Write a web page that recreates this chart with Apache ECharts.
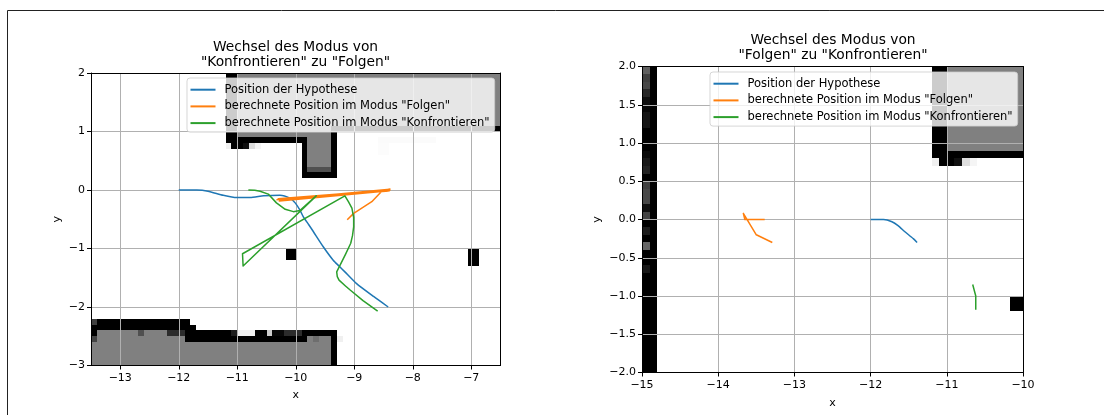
<!DOCTYPE html>
<html>
<head>
<meta charset="utf-8">
<style>html,body{margin:0;padding:0;background:#fff}#c{width:1104px;height:415px}</style>
<script src="https://cdn.jsdelivr.net/npm/echarts@6/dist/echarts.min.js"></script>
</head>
<body>
<div id="c"></div>
<script>
const seriesNames = ['Position der Hypothese', 'berechnete Position im Modus "Folgen"', 'berechnete Position im Modus "Konfrontieren"'];
const seriesColors = ['#1f77b4', '#ff7f0e', '#2ca02c'];
const leftTitle = 'Wechsel des Modus von\n"Konfrontieren" zu "Folgen"';
const rightTitle = 'Wechsel des Modus von\n"Folgen" zu "Konfrontieren"';

const leftXTicks = [-13, -12, -11, -10, -9, -8, -7];
const leftYTicks = [-3, -2, -1, 0, 1, 2];
const rightXTicks = [-15, -14, -13, -12, -11, -10];
const rightYTicks = [-2, -1.5, -1, -0.5, 0, 0.5, 1, 1.5, 2];

const leftBlue = [[-12,0],[-11.69,0],[-11.5,-0.02],[-11.24,-0.09],[-11.01,-0.13],[-10.78,-0.13],[-10.55,-0.1],[-10.27,-0.09],[-10.1,-0.14],[-10.01,-0.22],[-9.93,-0.34],[-9.87,-0.46],[-9.78,-0.59],[-9.7,-0.71],[-9.53,-0.97],[-9.36,-1.2],[-9.26,-1.3],[-9.16,-1.4],[-8.96,-1.6],[-8.67,-1.82],[-8.42,-2]];
const leftOrange = [[-10.33,-0.165],[-8.39,0.015],[-10.28,-0.19],[-8.4,-0.015],[-10.3,-0.15],[-8.39,0],[-8.53,-0.02],[-8.7,-0.2],[-9.01,-0.4],[-9.12,-0.51]];
const leftGreen = [[-10.81,0],[-10.7,-0.005],[-10.61,-0.02],[-10.47,-0.07],[-10.33,-0.22],[-10.18,-0.33],[-10.04,-0.37],[-9.93,-0.35],[-9.65,-0.1],[-10.9,-1.3],[-10.91,-1.09],[-9.16,-0.1],[-9.1,-0.2],[-9.04,-0.31],[-9.01,-0.47],[-9.01,-0.63],[-9.03,-0.78],[-9.06,-0.91],[-9.15,-1.1],[-9.24,-1.28],[-9.3,-1.4],[-9.29,-1.48],[-9.26,-1.54],[-9.15,-1.64],[-9.07,-1.71],[-8.85,-1.89],[-8.6,-2.07]];

const rightBlue = [[-12,0],[-11.83,0],[-11.72,-0.03],[-11.64,-0.08],[-11.55,-0.16],[-11.44,-0.25],[-11.39,-0.3]];
const rightOrange = [[-13.39,0],[-13.65,0],[-13.67,0.08],[-13.5,-0.2],[-13.29,-0.3]];
const rightGreen = [[-10.66,-0.85],[-10.62,-1],[-10.62,-1.18]];

// occupancy map cells in world units: x0, x1, y0, y1, grey level
const grey = 128;
const mapUpper = [
  [-11,-6.5,0.9,2.1,grey],
  [-9.8,-9.4,0.4,0.9,grey],
  [-11.2,-11,0.8,2.1,0],
  [-11.2,-9.8,0.8,0.9,0],
  [-9.9,-9.8,0.2,0.9,0],
  [-9.9,-9.3,0.2,0.3,0],
  [-9.8,-9.4,0.3,0.4,80],
  [-9.4,-9.3,0.2,1.1,0],
  [-9.3,-6.4,1,1.1,0],
  [-9.3,-6.4,0.3,1,255],
  [-11.2,-11.1,0.7,0.8,240],
  [-11.1,-10.9,0.7,0.8,0],
  [-10.9,-10.8,0.7,0.8,16],
  [-10.8,-10.7,0.7,0.8,222],
  [-10.7,-10.6,0.7,0.8,245],
  [-8.6,-7.6,0.8,0.9,251],
  [-8.6,-8.4,0.6,0.8,252]
];
const mapLower = [
  [-13.6,-9.4,-3.1,-2.6,grey],
  [-13.4,-11.9,-2.6,-2.4,grey],
  [-9.8,-9.4,-2.6,-2.5,grey],
  [-13.5,-13.4,-2.3,-2.2,64],
  [-13.5,-13.4,-2.5,-2.3,0],
  [-13.5,-13.4,-2.6,-2.5,68],
  [-13.4,-11.8,-2.4,-2.2,0],
  [-11.8,-11.7,-2.4,-2.3,0],
  [-12.7,-12.6,-2.5,-2.4,80],
  [-12.2,-11.9,-2.5,-2.4,44],
  [-11.9,-9.8,-2.6,-2.5,0],
  [-11.9,-11.1,-2.5,-2.4,0],
  [-11.1,-11,-2.5,-2.4,30],
  [-11,-10.7,-2.5,-2.4,240],
  [-10.7,-10.5,-2.5,-2.4,0],
  [-10.5,-10.4,-2.5,-2.4,205],
  [-10.4,-10.2,-2.5,-2.4,8],
  [-10.2,-9.9,-2.5,-2.4,44],
  [-9.9,-9.3,-2.5,-2.4,0],
  [-9.4,-9.3,-3.1,-2.4,0],
  [-9.7,-9.6,-2.6,-2.5,110],
  [-9.3,-9.2,-2.6,-2.5,240]
];
const mapObstacles = [
  [-10.17,-10,-1.2,-1,0],
  [-7.06,-6.87,-1.3,-1,170],
  [-7.06,-7.01,-1.3,-1,0],
  [-6.98,-6.87,-1.3,-1,0]
];
const wallColumn = [96,64,72,40,16,8,21,21,0,0,0,10,24,34,0,64,72,72,16,68,0,28,0,102,0,0,24,0,0,0,0,0,0,0,0,0,0,0,0,0];
const mapWall = [[-14.9,-14.8,-2.1,2.1,0]];
wallColumn.forEach((g, i) => mapWall.push([-15, -14.9, 2 - 0.1 * (i + 1), 2 - 0.1 * i, g]));
const mapCells = [...mapWall, ...mapUpper, ...mapLower, ...mapObstacles];

const FONT = '"DejaVu Sans"';
const fmtInt = v => String(v).replace('-', '\u2212');
const fmtOne = v => v.toFixed(1).replace('-', '\u2212');

function bottomX(grid, min, max, ticks, nameGap) {
  return {
    type: 'value', gridIndex: grid, min, max, position: 'bottom', z: 2,
    name: 'x', nameLocation: 'middle', nameGap, nameTextStyle: {fontFamily: FONT, fontSize: 11, color: '#000'},
    axisLine: {show: true, onZero: false, lineStyle: {color: '#000', width: 1}},
    axisTick: {show: true, length: 4, customValues: ticks, lineStyle: {color: '#000', width: 1}},
    axisLabel: {show: true, customValues: ticks, formatter: fmtInt, margin: 7, fontFamily: FONT, fontSize: 11, color: '#000', hideOverlap: false},
    splitLine: {show: true, lineStyle: {color: '#b0b0b0', width: 1}}
  };
}
function leftY(grid, min, max, ticks, fmt, nameGap) {
  return {
    type: 'value', gridIndex: grid, min, max, position: 'left', z: 2,
    name: 'y', nameLocation: 'middle', nameGap, nameTextStyle: {fontFamily: FONT, fontSize: 11, color: '#000'},
    axisLine: {show: true, onZero: false, lineStyle: {color: '#000', width: 1}},
    axisTick: {show: true, length: 4, customValues: ticks, lineStyle: {color: '#000', width: 1}},
    axisLabel: {show: true, customValues: ticks, formatter: fmt, margin: 6, fontFamily: FONT, fontSize: 11, color: '#000'},
    splitLine: {show: true, lineStyle: {color: '#b0b0b0', width: 1}}
  };
}
function spine(grid, min, max, position) {
  return {
    type: 'value', gridIndex: grid, min, max, position, z: 2,
    axisLine: {show: true, onZero: false, lineStyle: {color: '#000', width: 1}},
    axisTick: {show: false}, axisLabel: {show: false}, splitLine: {show: false}
  };
}
function mapSeries(xi, yi) {
  return {
    type: 'custom', xAxisIndex: xi, yAxisIndex: yi, z: 1, silent: true, clip: true,
    data: mapCells, encode: {x: [0, 1], y: [2, 3]},
    renderItem: (params, api) => {
      const a = api.coord([api.value(0), api.value(3)]);
      const b = api.coord([api.value(1), api.value(2)]);
      const g = api.value(4);
      const x0 = Math.round(a[0]), y0 = Math.round(a[1]);
      return {type: 'rect', shape: {x: x0, y: y0, width: Math.round(b[0]) - x0, height: Math.round(b[1]) - y0},
        style: {fill: 'rgb(' + g + ',' + g + ',' + g + ')'}};
    }
  };
}
function lineSeries(i, data, xi, yi, smooth) {
  return {
    type: 'line', name: seriesNames[i], data, xAxisIndex: xi, yAxisIndex: yi, z: 3,
    showSymbol: false, symbol: 'none', smooth: smooth || false, clip: true, silent: true,
    color: seriesColors[i], itemStyle: {color: seriesColors[i]},
    lineStyle: {color: seriesColors[i], width: 1.5, join: 'round'}
  };
}
function legend(left, top) {
  return {
    left, top, orient: 'vertical', z: 10, selectedMode: false, data: seriesNames,
    icon: 'rect', itemWidth: 25, itemHeight: 2, itemGap: 2.7,
    padding: [4.7, 5, 2, 3.5],
    backgroundColor: 'rgba(255,255,255,0.8)', borderColor: 'rgba(204,204,204,0.8)', borderWidth: 1, borderRadius: 3,
    textStyle: {fontFamily: FONT, fontSize: 11.5, color: '#000', lineHeight: 14, padding: [0, 0, 0, 4]}
  };
}
function title(text, center, top) {
  return {text, left: center, top, textAlign: 'center', padding: 0,
    textStyle: {fontFamily: FONT, fontSize: 13.8, fontWeight: 'normal', color: '#000', lineHeight: 15}};
}

const chart = echarts.init(document.getElementById('c'), null, {renderer: 'canvas'});
chart.setOption({
  animation: false,
  backgroundColor: '#fff',
  textStyle: {fontFamily: FONT},
  title: [title(leftTitle, 295.5, 40), title(rightTitle, 833, 33)],
  legend: [legend(187, 78), legend(710, 72)],
  grid: [
    {left: 91, top: 73, width: 409.5, height: 292.5},
    {left: 642, top: 66.5, width: 381, height: 306}
  ],
  xAxis: [bottomX(0, -13.5, -6.5, leftXTicks, 24), bottomX(1, -15, -10, rightXTicks, 25), spine(0, -13.5, -6.5, 'top'), spine(1, -15, -10, 'top')],
  yAxis: [leftY(0, -3, 2, leftYTicks, fmtInt, 28), leftY(1, -2, 2, rightYTicks, fmtOne, 39), spine(0, -3, 2, 'right'), spine(1, -2, 2, 'right')],
  series: [
    mapSeries(0, 0), mapSeries(1, 1),
    lineSeries(0, leftBlue, 0, 0, 0.2), lineSeries(1, leftOrange, 0, 0), lineSeries(2, leftGreen, 0, 0),
    lineSeries(0, rightBlue, 1, 1, 0.2), lineSeries(1, rightOrange, 1, 1), lineSeries(2, rightGreen, 1, 1)
  ],
  graphic: [{type: 'polyline', silent: true, z: 20, shape: {points: [[7.5, 415], [7.5, 10.5], [1104, 10.5]]}, style: {stroke: '#222', fill: null, lineWidth: 1}}]
});
</script>
</body>
</html>
